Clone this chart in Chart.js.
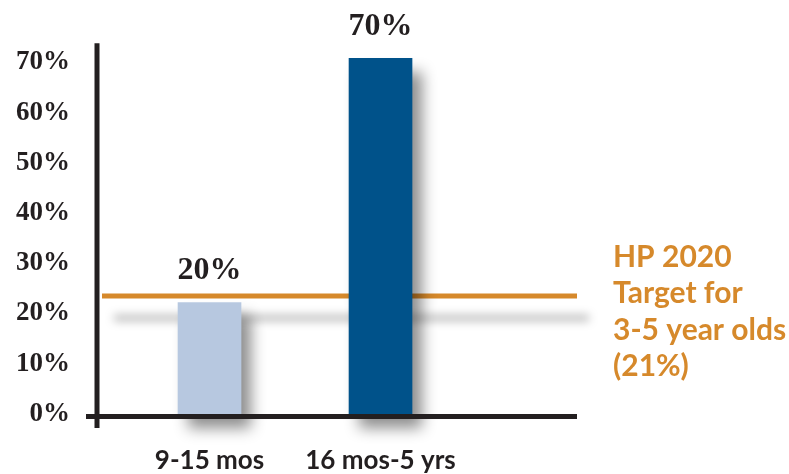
<!DOCTYPE html>
<html><head><meta charset="utf-8">
<script src="https://cdn.jsdelivr.net/npm/chart.js@4"></script>
<style>html,body{margin:0;padding:0;background:#fff}#wrap{width:789px;height:474px;position:relative}</style>
</head><body><div id="wrap"><canvas id="c" width="789" height="474"></canvas></div>
<script>
// ---- data ----
const categories = ['9-15 mos', '16 mos-5 yrs'];
const categoryPositions = [0, 1];
const values = [22.2, 70.8];            // bar heights as drawn
const valueLabels = ['20%', '70%'];     // printed labels
const yTickValues = [0, 10, 20, 30, 40, 50, 60, 70];
const targetValue = 23.5;               // target line as drawn
const targetLabelLines = ['HP 2020', 'Target for', '3-5 year olds', '(21%)'];

const barColors = ['#B7C8E0', '#00528A'];
const orange = '#D6892B';
const axisColor = '#231F20';

const targetLinePlugin = {
  id: 'targetLine',
  beforeDatasetsDraw(chart) {
    const {ctx, chartArea, scales} = chart;
    const y = scales.y.getPixelForValue(targetValue);
    ctx.save();
    ctx.shadowColor = 'rgba(0,0,0,0.35)';
    ctx.shadowBlur = 10;
    ctx.shadowOffsetX = 12;
    ctx.shadowOffsetY = 22;
    ctx.strokeStyle = orange;
    ctx.lineWidth = 5;
    ctx.beginPath();
    ctx.moveTo(chartArea.left + 5, y);
    ctx.lineTo(chartArea.right, y);
    ctx.stroke();
    ctx.restore();
  }
};

const barShadowPlugin = {
  id: 'barShadow',
  beforeDatasetDraw(chart, args) {
    if (args.meta.type !== 'bar') return;
    const ctx = chart.ctx;
    ctx.save();
    ctx.shadowColor = 'rgba(0,0,0,0.45)';
    ctx.shadowBlur = 14;
    ctx.shadowOffsetX = 10;
    ctx.shadowOffsetY = 14;
  },
  afterDatasetDraw(chart, args) {
    if (args.meta.type !== 'bar') return;
    chart.ctx.restore();
  }
};

const axesPlugin = {
  id: 'axesLines',
  afterDatasetsDraw(chart) {
    const {ctx, chartArea, scales} = chart;
    const y0 = scales.y.getPixelForValue(0);
    ctx.save();
    ctx.strokeStyle = axisColor;
    ctx.lineWidth = 5;
    ctx.beginPath();
    ctx.moveTo(chartArea.left - 11, y0 + 2.5);
    ctx.lineTo(chartArea.right, y0 + 2.5);
    ctx.stroke();
    ctx.beginPath();
    ctx.moveTo(chartArea.left, chartArea.top);
    ctx.lineTo(chartArea.left, y0 + 14);
    ctx.stroke();
    ctx.restore();
  }
};

const labelsPlugin = {
  id: 'valueLabels',
  afterDatasetsDraw(chart) {
    const {ctx} = chart;
    const meta = chart.getDatasetMeta(0);
    ctx.save();
    ctx.fillStyle = axisColor;
    ctx.font = 'bold 32px "Liberation Serif"';
    ctx.textAlign = 'center';
    ctx.textBaseline = 'middle';
    meta.data.forEach((bar, i) => {
      ctx.fillText(valueLabels[i], bar.x, bar.y - 32);
    });
    ctx.restore();
  },
  afterDraw(chart) {
    const {ctx, chartArea, scales} = chart;
    const yT = scales.y.getPixelForValue(targetValue);
    ctx.save();
    ctx.fillStyle = orange;
    ctx.font = 'bold 30px Lato';
    ctx.textAlign = 'left';
    ctx.textBaseline = 'middle';
    targetLabelLines.forEach((t, i) => {
      ctx.fillText(t, chartArea.right + 36, yT - 39 + i * 36.5);
    });
    ctx.restore();
  }
};

new Chart(document.getElementById('c'), {
  type: 'bar',
  data: {
    datasets: [{
      data: categoryPositions.map((x, i) => ({x, y: values[i]})),
      backgroundColor: barColors,
      borderWidth: 0,
      barThickness: 63,
      clip: false
    }]
  },
  options: {
    responsive: false,
    animation: false,
    devicePixelRatio: 1,
    layout: {padding: {top: 43, right: 212, left: 0, bottom: 0}},
    plugins: {legend: {display: false}, tooltip: {enabled: false}},
    scales: {
      x: {
        type: 'linear',
        offset: false,
        min: -0.658,
        max: 2.149,
        grid: {display: false, drawTicks: false, offset: false},
        border: {display: false},
        afterBuildTicks(scale) { scale.ticks = categoryPositions.map(v => ({value: v})); },
        afterFit(scale) { scale.height = 60; },
        ticks: {
          autoSkip: false, maxRotation: 0, padding: 31,
          color: axisColor,
          font: {family: 'Lato', weight: 'bold', size: 26},
          callback: (v, i) => categories[i]
        }
      },
      y: {
        min: 0,
        max: 73.8,
        grid: {display: false, drawTicks: false},
        border: {display: false},
        afterBuildTicks(scale) { scale.ticks = yTickValues.map(v => ({value: v})); },
        afterFit(scale) { scale.width = 97; },
        ticks: {
          padding: 27,
          color: axisColor,
          font: {family: 'Liberation Serif', weight: 'bold', size: 27},
          callback: v => v + '%'
        }
      }
    }
  },
  plugins: [targetLinePlugin, barShadowPlugin, axesPlugin, labelsPlugin]
});
</script></body></html>
